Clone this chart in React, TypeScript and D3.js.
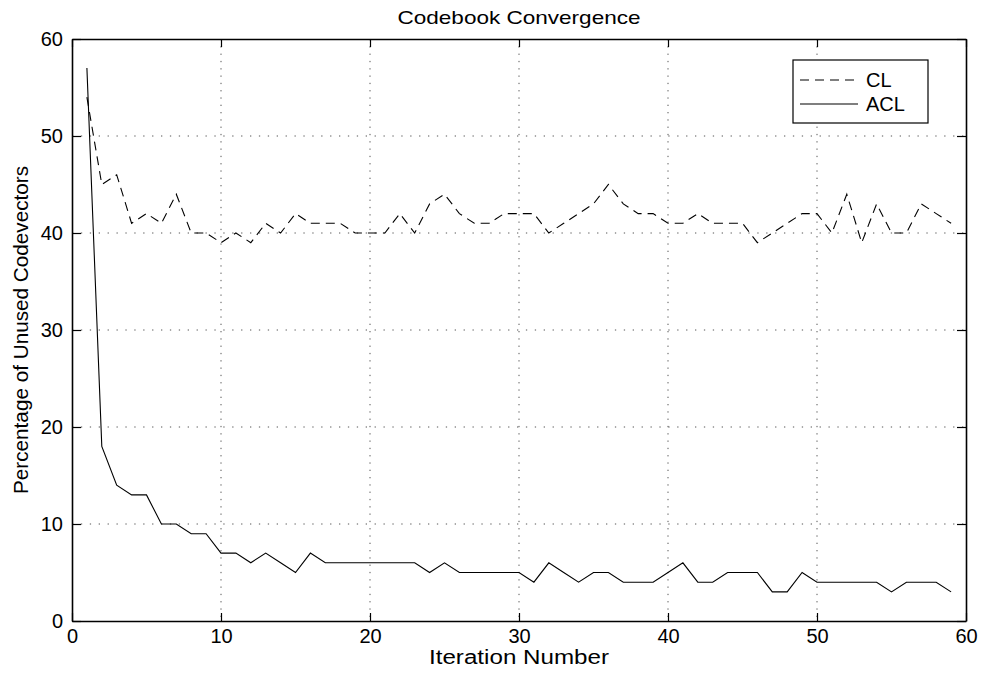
import React, { useRef, useEffect } from "react";
import * as d3 from "d3";

const iterations = [
  1, 2, 3, 4, 5, 6, 7, 8, 9, 10, 11, 12, 13, 14, 15, 16, 17, 18, 19, 20,
  21, 22, 23, 24, 25, 26, 27, 28, 29, 30, 31, 32, 33, 34, 35, 36, 37, 38, 39, 40,
  41, 42, 43, 44, 45, 46, 47, 48, 49, 50, 51, 52, 53, 54, 55, 56, 57, 58, 59,
];

const clValues = [
  54, 45, 46, 41, 42, 41, 44, 40, 40, 39, 40, 39, 41, 40, 42, 41, 41, 41, 40, 40,
  40, 42, 40, 43, 44, 42, 41, 41, 42, 42, 42, 40, 41, 42, 43, 45, 43, 42, 42, 41,
  41, 42, 41, 41, 41, 39, 40, 41, 42, 42, 40, 44, 39, 43, 40, 40, 43, 42, 41,
];

const aclValues = [
  57, 18, 14, 13, 13, 10, 10, 9, 9, 7, 7, 6, 7, 6, 5, 7, 6, 6, 6, 6,
  6, 6, 6, 5, 6, 5, 5, 5, 5, 5, 4, 6, 5, 4, 5, 5, 4, 4, 4, 5,
  6, 4, 4, 5, 5, 5, 3, 3, 5, 4, 4, 4, 4, 4, 3, 4, 4, 4, 3,
];

const xTicks = [0, 10, 20, 30, 40, 50, 60];
const yTicks = [0, 10, 20, 30, 40, 50, 60];
const seriesNames = ["CL", "ACL"];

const width = 983;
const height = 674;
const font = "'Liberation Sans', Arial, Helvetica, sans-serif";

export default function App() {
  const ref = useRef<SVGSVGElement>(null);

  useEffect(() => {
    const svg = d3.select(ref.current);
    svg.selectAll("*").remove();

    const left = 72, right = 966, top = 39, bottom = 621;
    const x = d3.scaleLinear().domain([0, 60]).range([left, right]);
    const y = d3.scaleLinear().domain([0, 60]).range([bottom, top]);

    svg.append("rect").attr("width", width).attr("height", height).attr("fill", "#fff");

    // grid
    const grid = svg.append("g").attr("stroke", "#555").attr("stroke-width", 1);
    grid.selectAll("line.gx")
      .data(xTicks.slice(1, -1))
      .join("line")
      .attr("x1", (d) => x(d)).attr("x2", (d) => x(d))
      .attr("y1", top).attr("y2", bottom)
      .attr("stroke-dasharray", "1.3,6");
    grid.selectAll("line.gy")
      .data(yTicks.slice(1, -1))
      .join("line")
      .attr("class", "gy")
      .attr("x1", left).attr("x2", right)
      .attr("y1", (d) => y(d)).attr("y2", (d) => y(d))
      .attr("stroke-dasharray", "1.3,7.6");

    // axes (ticks point inward, labels outside)
    const styleAxis = (g: any) => {
      g.select(".domain").attr("stroke", "#000").attr("stroke-width", 1.6);
      g.selectAll(".tick line").attr("stroke", "#000").attr("stroke-width", 1.2);
      g.selectAll(".tick text")
        .attr("fill", "#000")
        .style("font-family", font)
        .style("font-size", "20px");
    };

    svg.append("g")
      .attr("transform", `translate(0,${bottom})`)
      .call(d3.axisBottom(x).tickValues(xTicks).tickSizeInner(-8).tickSizeOuter(0).tickPadding(8).tickFormat(d3.format("d")))
      .call(styleAxis);
    svg.append("g")
      .attr("transform", `translate(${left},0)`)
      .call(d3.axisLeft(y).tickValues(yTicks).tickSizeInner(-9).tickSizeOuter(0).tickPadding(9).tickFormat(d3.format("d")))
      .call(styleAxis);
    svg.append("g")
      .attr("transform", `translate(0,${top})`)
      .call(d3.axisTop(x).tickValues(xTicks).tickSizeInner(-8).tickSizeOuter(0).tickFormat(() => ""))
      .call(styleAxis);
    svg.append("g")
      .attr("transform", `translate(${right},0)`)
      .call(d3.axisRight(y).tickValues(yTicks).tickSizeInner(-9).tickSizeOuter(0).tickFormat(() => ""))
      .call(styleAxis);

    // series
    const line = d3.line<number>()
      .x((_, i) => x(iterations[i]))
      .y((d) => y(d));

    svg.append("path")
      .datum(clValues)
      .attr("fill", "none")
      .attr("stroke", "#000")
      .attr("stroke-width", 1.1)
      .attr("stroke-dasharray", "9,6")
      .attr("d", line);

    svg.append("path")
      .datum(aclValues)
      .attr("fill", "none")
      .attr("stroke", "#000")
      .attr("stroke-width", 1.1)
      .attr("d", line);

    // labels
    svg.append("text")
      .attr("x", (left + right) / 2).attr("y", 24)
      .attr("text-anchor", "middle")
      .attr("textLength", 243).attr("lengthAdjust", "spacingAndGlyphs")
      .style("font-family", font).style("font-size", "18.5px")
      .text("Codebook Convergence");

    svg.append("text")
      .attr("x", (left + right) / 2).attr("y", 664)
      .attr("text-anchor", "middle")
      .attr("textLength", 180).attr("lengthAdjust", "spacingAndGlyphs")
      .style("font-family", font).style("font-size", "20px")
      .text("Iteration Number");

    svg.append("text")
      .attr("transform", `translate(28,${(top + bottom) / 2}) rotate(-90)`)
      .attr("text-anchor", "middle")
      .attr("textLength", 328).attr("lengthAdjust", "spacingAndGlyphs")
      .style("font-family", font).style("font-size", "20px")
      .text("Percentage of Unused Codevectors");

    // legend
    const lg = svg.append("g");
    lg.append("rect")
      .attr("x", 793).attr("y", 60).attr("width", 135).attr("height", 63)
      .attr("fill", "#fff").attr("stroke", "#000").attr("stroke-width", 1.2);
    seriesNames.forEach((name, i) => {
      const ly = 80 + i * 24;
      lg.append("line")
        .attr("x1", 800).attr("x2", 858).attr("y1", ly).attr("y2", ly)
        .attr("stroke", "#000").attr("stroke-width", 1.1)
        .attr("stroke-dasharray", i === 0 ? "9,6" : null);
      lg.append("text")
        .attr("x", 866).attr("y", ly + 7)
        .style("font-family", font).style("font-size", "20px")
        .text(name);
    });
  }, []);

  return (
    <svg
      ref={ref}
      width={width}
      height={height}
      style={{ position: "absolute", left: 0, top: 0, display: "block" }}
    />
  );
}
